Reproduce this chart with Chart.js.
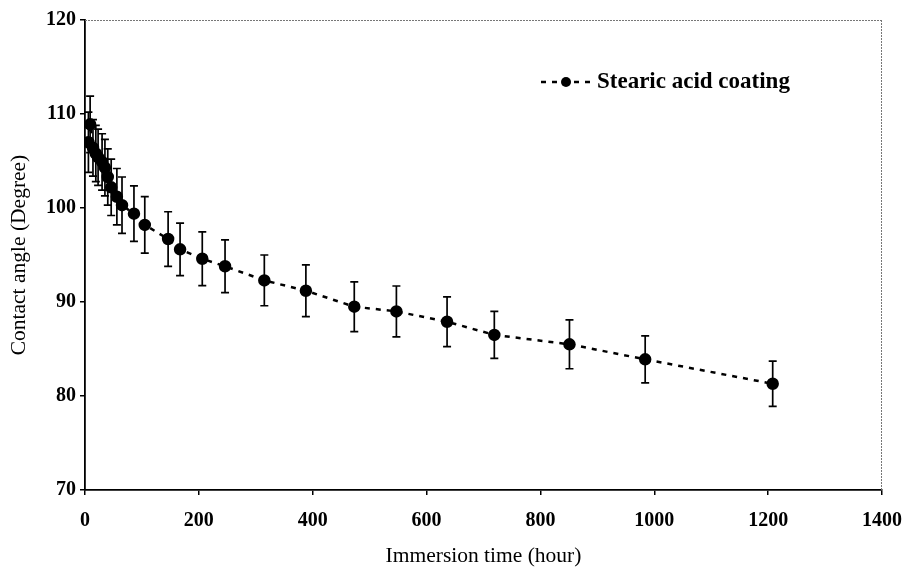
<!DOCTYPE html>
<html>
<head>
<meta charset="utf-8">
<script src="https://cdn.jsdelivr.net/npm/chart.js@4/dist/chart.umd.min.js"></script>
<style>
  html, body { margin: 0; padding: 0; background: #fff; }
  canvas { display: block; }
</style>
</head>
<body>
<canvas id="c" width="902" height="569"></canvas>
<script>
// ---- data ----
const hours  = [6, 9, 14, 19, 23, 30, 35, 40, 46, 56, 65, 86, 105, 146, 167, 206, 246, 315, 388, 473, 547, 636, 719, 851, 984, 1208];
const angles = [107.0, 108.9, 106.4, 105.8, 105.4, 104.9, 104.3, 103.3, 102.2, 101.2, 100.3, 99.4, 98.2, 96.7, 95.6, 94.6, 93.8, 92.3, 91.2, 89.5, 89.0, 87.9, 86.5, 85.5, 83.9, 81.3];
const errors = [3.2, 3.0, 3.0, 3.0, 3.0, 3.0, 3.0, 3.0, 3.0, 3.0, 3.0, 2.95, 3.0, 2.9, 2.8, 2.85, 2.8, 2.7, 2.75, 2.65, 2.7, 2.65, 2.5, 2.6, 2.5, 2.4];
const seriesName = 'Stearic acid coating';
const xTitle = 'Immersion time (hour)';
const yTitle = 'Contact angle (Degree)';

const points = hours.map((h, i) => ({ x: h, y: angles[i] }));

const errorBars = {
  id: 'errorBars',
  beforeDatasetsDraw(chart) {
    const { ctx, scales: { x, y } } = chart;
    ctx.save();
    ctx.strokeStyle = '#000';
    ctx.lineWidth = 1.7;
    hours.forEach((h, i) => {
      const px = x.getPixelForValue(h);
      const top = y.getPixelForValue(angles[i] + errors[i]);
      const bot = y.getPixelForValue(angles[i] - errors[i]);
      ctx.beginPath();
      ctx.moveTo(px, top); ctx.lineTo(px, bot);
      ctx.moveTo(px - 4, top); ctx.lineTo(px + 4, top);
      ctx.moveTo(px - 4, bot); ctx.lineTo(px + 4, bot);
      ctx.stroke();
    });
    ctx.restore();
  }
};

const frame = {
  id: 'frame',
  afterDraw(chart) {
    const { ctx, chartArea: a } = chart;
    ctx.save();
    ctx.strokeStyle = '#777';
    ctx.lineWidth = 1;
    ctx.setLineDash([2, 1]);
    ctx.beginPath();
    ctx.moveTo(a.left, a.top + 0.5); ctx.lineTo(a.right, a.top + 0.5);
    ctx.moveTo(a.right - 0.5, a.top); ctx.lineTo(a.right - 0.5, a.bottom);
    ctx.stroke();
    ctx.restore();
  }
};

const legendBox = {
  id: 'legendBox',
  afterDraw(chart) {
    const { ctx, chartArea: a } = chart;
    const lx = a.left + 456, ly = a.top + 62;
    ctx.save();
    ctx.strokeStyle = '#000';
    ctx.lineWidth = 2.5;
    ctx.setLineDash([5, 6]);
    ctx.beginPath();
    ctx.moveTo(lx, ly); ctx.lineTo(lx + 50, ly);
    ctx.stroke();
    ctx.setLineDash([]);
    ctx.fillStyle = '#000';
    ctx.beginPath();
    ctx.arc(lx + 25, ly, 5, 0, Math.PI * 2);
    ctx.fill();
    ctx.font = 'bold 23px "Liberation Serif"';
    ctx.textBaseline = 'middle';
    ctx.textAlign = 'left';
    ctx.fillText(seriesName, lx + 56, ly);
    ctx.restore();
  }
};

new Chart(document.getElementById('c'), {
  type: 'scatter',
  data: {
    datasets: [{
      label: seriesName,
      data: points,
      showLine: true,
      borderColor: '#000',
      backgroundColor: '#000',
      borderWidth: 2.5,
      borderDash: [5, 6],
      pointRadius: 5,
      pointBackgroundColor: '#000',
      pointBorderColor: '#000',
      tension: 0
    }]
  },
  options: {
    responsive: false,
    animation: false,
    devicePixelRatio: 1,
    layout: { padding: { top: 20, right: 20, left: 0, bottom: 0 } },
    plugins: {
      legend: { display: false },
      tooltip: { enabled: false }
    },
    scales: {
      x: {
        type: 'linear',
        min: 0, max: 1400,
        ticks: { stepSize: 200, color: '#000', font: { family: 'Liberation Serif', size: 20, weight: 'bold' }, padding: 14,
                 callback: v => String(v) },
        grid: { drawOnChartArea: false, drawTicks: true, tickLength: 5, color: '#000', lineWidth: 1.5 },
        border: { display: true, color: '#000', width: 1.8 },
        title: { display: true, text: xTitle, color: '#000', font: { family: 'Liberation Serif', size: 21.5 }, padding: { top: 6, bottom: 0 } },
        afterFit(s) { s.height = 79; s.paddingRight = 0; s.paddingLeft = 0; }
      },
      y: {
        type: 'linear',
        min: 70, max: 120,
        ticks: { stepSize: 10, color: '#000', font: { family: 'Liberation Serif', size: 20, weight: 'bold' }, padding: 4,
                 callback: v => String(v) },
        grid: { drawOnChartArea: false, drawTicks: true, tickLength: 5, color: '#000', lineWidth: 1.5 },
        border: { display: true, color: '#000', width: 1.8 },
        title: { display: true, text: yTitle, color: '#000', font: { family: 'Liberation Serif', size: 21.5 }, padding: { top: 6, bottom: 0 } },
        afterFit(s) { s.width = 85; s.paddingTop = 0; s.paddingBottom = 0; }
      }
    }
  },
  plugins: [errorBars, frame, legendBox]
});
</script>
</body>
</html>
